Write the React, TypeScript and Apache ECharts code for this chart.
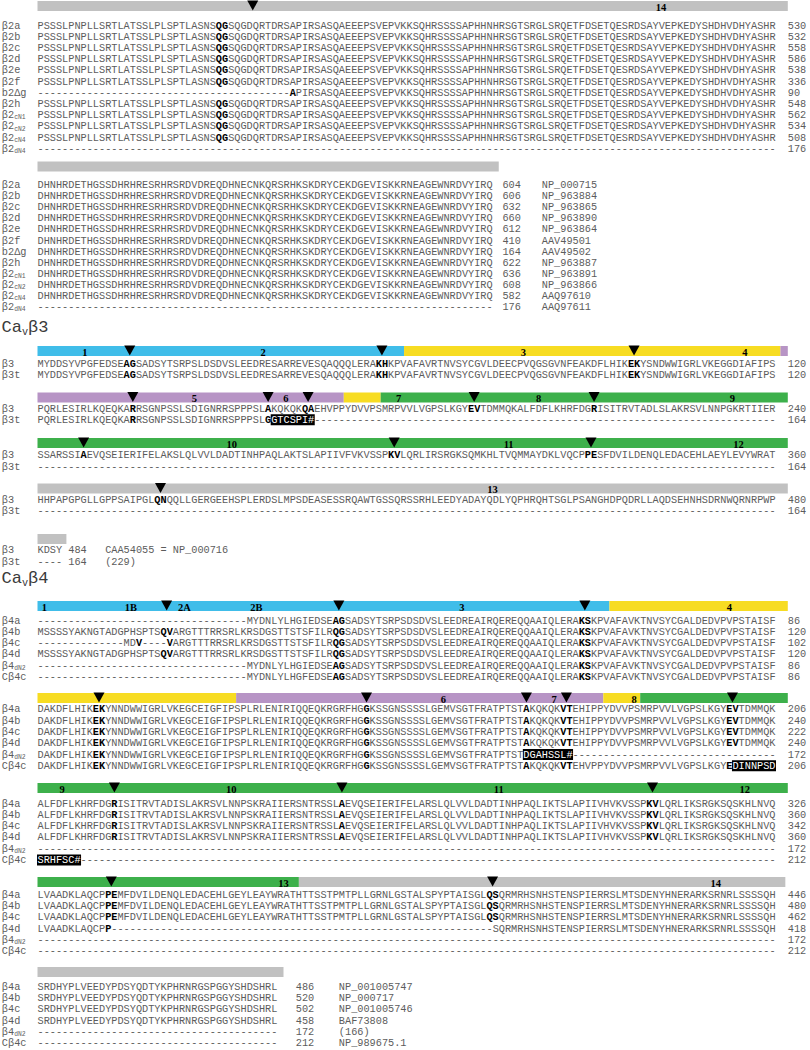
import React, { useEffect, useRef } from "react";
import * as echarts from "echarts";

const gap = (n: number) => "-".repeat(n);

// ---------------- Cavβ2 (C-terminal part) ----------------
const b2Names = ["β2a", "β2b", "β2c", "β2d", "β2e", "β2f", "b2Δg", "β2h", "β2_cN1", "β2_cN2", "β2_cN4", "β2_dN4"];
const b2SeqA = "PSSSLPNPLLSRTLATSSLPLSPTLASNS*QG*SQGDQRTDRSAPIRSASQAEEEPSVEPVKKSQHRSSSSAPHHNHRSGTSRGLSRQETFDSETQESRDSAYVEPKEDYSHDHVDHYASHR";
const b2gSeqA = gap(41) + "*A*PIRSASQAEEEPSVEPVKKSQHRSSSSAPHHNHRSGTSRGLSRQETFDSETQESRDSAYVEPKEDYSHDHVDHYASHR";
const b2RowsA = [b2SeqA, b2SeqA, b2SeqA, b2SeqA, b2SeqA, b2SeqA, b2gSeqA, b2SeqA, b2SeqA, b2SeqA, b2SeqA, gap(120)];
const b2EndA = [530, 532, 558, 586, 538, 336, 90, 548, 562, 534, 508, 176];
const b2BarsA: [number, number, string][] = [[0, 122, "s"]];
const b2LabelsA: [number, string][] = [[101.4, "14"]];
const b2ArrowsA = [35];

const b2SeqB = "DHNHRDETHGSSDHRHRESRHRSRDVDREQDHNECNKQRSRHKSKDRYCEKDGEVISKKRNEAGEWNRDVYIRQ";
const b2RowsB = [b2SeqB, b2SeqB, b2SeqB, b2SeqB, b2SeqB, b2SeqB, b2SeqB, b2SeqB, b2SeqB, b2SeqB, b2SeqB, gap(74)];
const b2EndB = [604, 606, 632, 660, 612, 410, 164, 622, 636, 608, 582, 176];
const b2Acc = ["NP_000715", "NP_963884", "NP_963865", "NP_963890", "NP_963864", "AAV49501", "AAV49502", "NP_963887", "NP_963891", "NP_963866", "AAQ97610", "AAQ97611"];
const b2BarsB: [number, number, string][] = [[0, 75, "s"]];

// ---------------- Cavβ3 ----------------
const b3Names = ["β3", "β3t"];
const b3L1 = "MYDDSYVPGFEDSE*AG*SADSYTSRPSLDSDVSLEEDRESARREVESQAQQQLERA*KH*KPVAFAVRTNVSYCGVLDEECPVQGSGVNFEAKDFLHIK*EK*YSNDWWIGRLVKEGGDIAFIPS";
const b3Rows1 = [b3L1, b3L1];
const b3End1 = [120, 120];
const b3Bars1: [number, number, string][] = [[0, 59.6, "b"], [59.6, 120.8, "y"], [120.8, 122, "p"]];
const b3Labels1: [number, string][] = [[7.7, "1"], [36.7, "2"], [79, "3"], [115, "4"]];
const b3Arrows1 = [15, 56, 97];

const b3Rows2 = [
  "PQRLESIRLKQEQKA*R*RSGNPSSLSDIGNRRSPPPSL*A*KQKQK*QA*EHVPPYDVVPSMRPVVLVGPSLKGY*EV*TDMMQKALFDFLKHRFDG*R*ISITRVTADLSLAKRSVLNNPGKRTIIER",
  "PQRLESIRLKQEQKA*R*RSGNPSSLSDIGNRRSPPPSL*G*[GTCSPI#]" + gap(75),
];
const b3End2 = [240, 164];
const b3Bars2: [number, number, string][] = [[0, 49.8, "p"], [49.8, 55.8, "y"], [55.8, 122, "g"]];
const b3Labels2: [number, string][] = [[25.5, "5"], [40.4, "6"], [58.7, "7"], [81.5, "8"], [113, "9"]];
const b3Arrows2 = [15.5, 37.5, 44, 71, 90.5];

const b3Rows3 = [
  "SSARSSI*A*EVQSEIERIFELAKSLQLVVLDADTINHPAQLAKTSLAPIIVFVKVSSP*KV*LQRLIRSRGKSQMKHLTVQMMAYDKLVQCP*PE*SFDVILDENQLEDACEHLAEYLEVYWRAT",
  gap(120),
];
const b3End3 = [360, 164];
const b3Bars3: [number, number, string][] = [[0, 122, "g"]];
const b3Labels3: [number, string][] = [[31.6, "10"], [76.6, "11"], [114, "12"]];
const b3Arrows3 = [7.5, 58, 90];

const b3Rows4 = [
  "HHPAPGPGLLGPPSAIPGL*QN*QQLLGERGEEHSPLERDSLMPSDEASESSRQAWTGSSQRSSRHLEEDYADAYQDLYQPHRQHTSGLPSANGHDPQDRLLAQDSEHNHSDRNWQRNRPWP",
  gap(120),
];
const b3End4 = [480, 164];
const b3Bars4: [number, number, string][] = [[0, 122, "s"]];
const b3Labels4: [number, string][] = [[74, "13"]];
const b3Arrows4 = [20];

const b3Rows5 = ["KDSY", "----"];
const b3End5 = [484, 164];
const b3Acc5 = ["CAA54055 = NP_000716", "(229)"];
const b3Bars5: [number, number, string][] = [[0, 4.7, "s"]];

// ---------------- Cavβ4 ----------------
const b4Names = ["β4a", "β4b", "β4c", "β4d", "β4_dN2", "Cβ4c"];
const b4aL1 = gap(34) + "MYDNLYLHGIEDSE*AG*SADSYTSRPSDSDVSLEEDREAIRQEREQQAAIQLERA*KS*KPVAFAVKTNVSYCGALDEDVPVPSTAISF";
const b4bL1 = "MSSSSYAKNGTADGPHSPTS*QV*ARGTTTRRSRLKRSDGSTTSTSFILR*QG*SADSYTSRPSDSDVSLEEDREAIRQEREQQAAIQLERA*KS*KPVAFAVKTNVSYCGALDEDVPVPSTAISF";
const b4cL1 = gap(14) + "MD*V*----*V*ARGTTTRRSRLKRSDGSTTSTSFILR*QG*SADSYTSRPSDSDVSLEEDREAIRQEREQQAAIQLERA*KS*KPVAFAVKTNVSYCGALDEDVPVPSTAISF";
const cb4cL1 = gap(34) + "MYDNLYLHGFEDSE*AG*SADSYTSRPSDSDVSLEEDREAIRQEREQQAAIQLERA*KS*KPVAFAVKTNVSYCGALDEDVPVPSTAISF";
const b4Rows1 = [b4aL1, b4bL1, b4cL1, b4bL1, b4aL1, cb4cL1];
const b4End1 = [86, 120, 102, 120, 86, 86];
const b4Bars1: [number, number, string][] = [[0, 93, "b"], [93, 122, "y"]];
const b4Labels1: [number, string][] = [[1.1, "1"], [15.2, "1B"], [23.9, "2A"], [35.6, "2B"], [69, "3"], [112.5, "4"]];
const b4Arrows1 = [21, 49, 89];

const b4L2 = "DAKDFLHIK*EK*YNNDWWIGRLVKEGCEIGFIPSPLRLENIRIQQEQKRGRFHG*G*KSSGNSSSSLGEMVSGTFRATPTST*A*KQKQK*VT*EHIPPYDVVPSMRPVVLVGPSLKGY*EV*TDMMQK";
const b4dN2L2 = "DAKDFLHIK*EK*YNNDWWIGRLVKEGCEIGFIPSPLRLENIRIQQEQKRGRFHG*G*KSSGNSSSSLGEMVSGTFRATPTST[DGAHSSL#]" + gap(33);
const cb4cL2 = "DAKDFLHIK*EK*YNNDWWIGRLVKEGCEIGFIPSPLRLENIRIQQEQKRGRFHG*G*KSSGNSSSSLGEMVSGTFRATPTST*A*KQKQK*VT*EHVPPYDVVPSMRPVVLVGPSLKGY*E*[DINNPSD]";
const b4Rows2 = [b4L2, b4L2, b4L2, b4L2, b4dN2L2, cb4cL2];
const b4End2 = [206, 240, 222, 240, 172, 206];
const b4Bars2: [number, number, string][] = [[0, 32.3, "y"], [32.3, 92, "p"], [92, 98, "y"], [98, 122, "g"]];
const b4Labels2: [number, string][] = [[66, "6"], [84, "7"], [97, "8"]];
const b4Arrows2 = [10, 53.5, 79.5, 86, 113];

const b4L3 = "ALFDFLKHRFDG*R*ISITRVTADISLAKRSVLNNPSKRAIIERSNTRSSL*A*EVQSEIERIFELARSLQLVVLDADTINHPAQLIKTSLAPIIVHVKVSSP*KV*LQRLIKSRGKSQSKHLNVQ";
const b4Rows3 = [b4L3, b4L3, b4L3, b4L3, gap(120), "[SRHFSC#]" + gap(113)];
const b4End3 = [326, 360, 342, 360, 172, 212];
const b4Bars3: [number, number, string][] = [[0, 122, "g"]];
const b4Labels3: [number, string][] = [[4, "9"], [31.5, "10"], [75, "11"], [115, "12"]];
const b4Arrows3 = [12.5, 49.5, 100];

const b4L4 = "LVAADKLAQCP*PE*MFDVILDENQLEDACEHLGEYLEAYWRATHTTSSTPMTPLLGRNLGSTALSPYPTAISGL*QS*QRMRHSNHSTENSPIERRSLMTSDENYHNERARKSRNRLSSSSQH";
const b4dL4 = "LVAADKLAQCP*P*" + gap(62) + "SQRMRHSNHSTENSPIERRSLMTSDENYHNERARKSRNRLSSSSQH";
const b4Rows4 = [b4L4, b4L4, b4L4, b4dL4, gap(120), gap(120)];
const b4End4 = [446, 480, 462, 418, 172, 212];
const b4Bars4: [number, number, string][] = [[0, 42.5, "g"], [42.5, 121.6, "s"]];
const b4Labels4: [number, string][] = [[40, "13"], [110.3, "14"]];
const b4Arrows4 = [12, 74];

const b4L5 = "SRDHYPLVEEDYPDSYQDTYKPHRNRGSPGGYSHDSHRL";
const b4Rows5 = [b4L5, b4L5, b4L5, b4L5, gap(39), gap(39)];
const b4End5 = [486, 520, 502, 458, 172, 212];
const b4Acc5 = ["NP_001005747", "NP_000717", "NP_001005746", "BAF73808", "(166)", "NP_989675.1"];
const b4Bars5: [number, number, string][] = [[0, 40, "s"]];

const headings = ["Ca_vβ3", "Ca_vβ4"];

// ---------------- styles & layout ----------------
const CW = 6.15;
const FS = CW / 0.6;
const LEFT = 37.5;
const MONO = "'Liberation Mono', 'DejaVu Sans Mono', monospace";
const SERIF = "'Liberation Serif', 'DejaVu Serif', serif";
const TXT = "#5c5c5c";
const COLORS: Record<string, string> = { b: "#40bde9", y: "#f7dc22", p: "#b794c5", g: "#3db04b", s: "#c1c1c1" };
const BAR_H = 10;
const LABEL_COL = -5.8;

type Row = { name: string; seq: string; end: string; acc?: string };
type Block = { bars: [number, number, string][]; labels: [number, string][]; arrows: number[]; rows: Row[] };
type Layout = { barTop: number; row0: number; gap: number; endCol: number; accCol: number };

const mkRows = (names: string[], seqs: string[], ends: number[], accs?: string[]): Row[] =>
  names.map((n, i) => ({ name: n, seq: seqs[i], end: String(ends[i]), acc: accs ? accs[i] : undefined }));

const blocks: Block[] = [
  { bars: b2BarsA, labels: b2LabelsA, arrows: b2ArrowsA, rows: mkRows(b2Names, b2RowsA, b2EndA) },
  { bars: b2BarsB, labels: [], arrows: [], rows: mkRows(b2Names, b2RowsB, b2EndB, b2Acc) },
  { bars: b3Bars1, labels: b3Labels1, arrows: b3Arrows1, rows: mkRows(b3Names, b3Rows1, b3End1) },
  { bars: b3Bars2, labels: b3Labels2, arrows: b3Arrows2, rows: mkRows(b3Names, b3Rows2, b3End2) },
  { bars: b3Bars3, labels: b3Labels3, arrows: b3Arrows3, rows: mkRows(b3Names, b3Rows3, b3End3) },
  { bars: b3Bars4, labels: b3Labels4, arrows: b3Arrows4, rows: mkRows(b3Names, b3Rows4, b3End4) },
  { bars: b3Bars5, labels: [], arrows: [], rows: mkRows(b3Names, b3Rows5, b3End5, b3Acc5) },
  { bars: b4Bars1, labels: b4Labels1, arrows: b4Arrows1, rows: mkRows(b4Names, b4Rows1, b4End1) },
  { bars: b4Bars2, labels: b4Labels2, arrows: b4Arrows2, rows: mkRows(b4Names, b4Rows2, b4End2) },
  { bars: b4Bars3, labels: b4Labels3, arrows: b4Arrows3, rows: mkRows(b4Names, b4Rows3, b4End3) },
  { bars: b4Bars4, labels: b4Labels4, arrows: b4Arrows4, rows: mkRows(b4Names, b4Rows4, b4End4) },
  { bars: b4Bars5, labels: [], arrows: [], rows: mkRows(b4Names, b4Rows5, b4End5, b4Acc5) },
];

const layout: Layout[] = [
  { barTop: 1, row0: 25.5, gap: 11.2, endCol: 122, accCol: 0 },
  { barTop: 161.5, row0: 185, gap: 11.1, endCol: 75.6, accCol: 82 },
  { barTop: 346, row0: 364, gap: 10.8, endCol: 122, accCol: 0 },
  { barTop: 392.5, row0: 409, gap: 10.8, endCol: 122, accCol: 0 },
  { barTop: 438, row0: 455, gap: 11.5, endCol: 122, accCol: 0 },
  { barTop: 483.5, row0: 500, gap: 11, endCol: 122, accCol: 0 },
  { barTop: 534, row0: 550, gap: 11.5, endCol: 5, accCol: 11 },
  { barTop: 601, row0: 621, gap: 11.15, endCol: 122, accCol: 0 },
  { barTop: 693, row0: 709.3, gap: 11.3, endCol: 122, accCol: 0 },
  { barTop: 783, row0: 803.5, gap: 11.3, endCol: 122, accCol: 0 },
  { barTop: 877, row0: 895, gap: 11.2, endCol: 122, accCol: 0 },
  { barTop: 967, row0: 987, gap: 11.2, endCol: 42, accCol: 49 },
];
const headingY = [327, 578];

type Seg = { text: string; kind: "n" | "b" | "x"; col: number };
function parse(s: string): Seg[] {
  const segs: Seg[] = [];
  let col = 0;
  let i = 0;
  while (i < s.length) {
    const ch = s[i];
    if (ch === "*" || ch === "[") {
      const close = ch === "*" ? "*" : "]";
      const j = s.indexOf(close, i + 1);
      const t = s.slice(i + 1, j);
      segs.push({ text: t, kind: ch === "*" ? "b" : "x", col });
      col += t.length;
      i = j + 1;
    } else {
      let j = i;
      while (j < s.length && s[j] !== "*" && s[j] !== "[") j++;
      const t = s.slice(i, j);
      segs.push({ text: t, kind: "n", col });
      col += t.length;
      i = j;
    }
  }
  return segs;
}

type BarItem = { c0: number; c1: number; top: number; color: string };
type ArrowItem = { col: number; top: number };
type LabelItem = { col: number; top: number; text: string };
type RowItem = { y: number; name: string; segs: Seg[]; end: string; endCol: number; acc?: string; accCol: number };

const barItems: BarItem[] = [];
const arrowItems: ArrowItem[] = [];
const labelItems: LabelItem[] = [];
const rowItems: RowItem[] = [];
blocks.forEach((b, bi) => {
  const L = layout[bi];
  b.bars.forEach(([c0, c1, c]) => barItems.push({ c0, c1, top: L.barTop, color: COLORS[c] }));
  b.labels.forEach(([col, text]) => labelItems.push({ col, top: L.barTop, text }));
  b.arrows.forEach((col) => arrowItems.push({ col, top: L.barTop }));
  b.rows.forEach((r, ri) =>
    rowItems.push({
      y: L.row0 + ri * L.gap,
      name: r.name,
      segs: parse(r.seq),
      end: r.end,
      endCol: L.endCol,
      acc: r.acc,
      accCol: L.accCol,
    })
  );
});

const txt = (x: number, y: number, text: string, fill: string, fontSize: number, extra: any = {}) => ({
  type: "text",
  style: { x, y, text, fill, fontSize, fontFamily: MONO, align: "left", verticalAlign: "middle", textAlign: "left", textVerticalAlign: "middle", ...extra },
});

function nameChildren(name: string, x: number, y: number, size: number, color: string) {
  const parts = name.split("_");
  const out: any[] = [txt(x, y, parts[0], color, size)];
  if (parts.length > 1) {
    const x2 = x + parts[0].length * size * 0.6;
    out.push(txt(x2, y + size * 0.28, parts[1], color, size * 0.62));
  }
  return out;
}

function headingChildren(name: string, x: number, y: number, size: number, color: string) {
  const [a, rest] = name.split("_");
  const sub = rest[0];
  const tail = rest.slice(1);
  const w1 = a.length * size * 0.6;
  const ws = size * 0.6 * 0.6;
  return [txt(x, y, a, color, size), txt(x + w1, y + size * 0.3, sub, color, size * 0.6), txt(x + w1 + ws, y, tail, color, size)];
}

export default function App() {
  const ref = useRef<HTMLDivElement>(null);
  useEffect(() => {
    document.body.style.margin = "0";
    if (!ref.current) return;
    const chart = echarts.init(ref.current, undefined, { renderer: "svg" });
    const option: any = {
      animation: false,
      backgroundColor: "#ffffff",
      grid: { left: LEFT, top: 0, width: 120 * CW, height: 1050 },
      xAxis: { type: "value", min: 0, max: 120, show: false },
      yAxis: { type: "value", min: 0, max: 1050, inverse: true, show: false },
      series: [
        {
          type: "custom",
          name: "bars",
          data: barItems.map((b) => [b.c0, b.top, b.c1]),
          renderItem: (params: any, api: any) => {
            const b = barItems[params.dataIndex];
            const p0 = api.coord([b.c0, b.top]);
            const p1 = api.coord([b.c1, b.top + BAR_H]);
            return { type: "rect", shape: { x: p0[0], y: p0[1], width: p1[0] - p0[0], height: p1[1] - p0[1] }, style: { fill: b.color } };
          },
        },
        {
          type: "custom",
          name: "arrows",
          data: arrowItems.map((a) => [a.col, a.top]),
          renderItem: (params: any, api: any) => {
            const a = arrowItems[params.dataIndex];
            const p = api.coord([a.col, a.top]);
            return {
              type: "polygon",
              shape: { points: [[p[0] - 5.5, p[1] - 0.5], [p[0] + 5.5, p[1] - 0.5], [p[0], p[1] + 9.5]] },
              style: { fill: "#000" },
            };
          },
        },
        {
          type: "custom",
          name: "barLabels",
          data: labelItems.map((l) => [l.col, l.top]),
          renderItem: (params: any, api: any) => {
            const l = labelItems[params.dataIndex];
            const p = api.coord([l.col, l.top + BAR_H / 2 + 1]);
            return {
              type: "text",
              style: { x: p[0], y: p[1], text: l.text, fill: "#000", fontSize: 10.5, fontWeight: "bold", fontFamily: SERIF, align: "center", verticalAlign: "middle", textAlign: "center", textVerticalAlign: "middle" },
            };
          },
        },
        {
          type: "custom",
          name: "rows",
          data: rowItems.map((r) => [0, r.y]),
          renderItem: (params: any, api: any) => {
            const r = rowItems[params.dataIndex];
            const y = api.coord([0, r.y])[1];
            const xAt = (c: number) => api.coord([c, r.y])[0];
            const children: any[] = [];
            children.push(...nameChildren(r.name, xAt(LABEL_COL), y, FS, TXT));
            r.segs.forEach((s) => {
              if (s.kind === "x") {
                const x0 = xAt(s.col);
                const x1 = xAt(s.col + s.text.length);
                children.push({ type: "rect", shape: { x: x0 - 0.5, y: y - 5.5, width: x1 - x0 + 1, height: 11 }, style: { fill: "#000" } });
              }
              children.push(
                txt(xAt(s.col), y, s.text, s.kind === "n" ? TXT : s.kind === "b" ? "#000" : "#fff", FS, {
                  fontWeight: s.kind === "b" ? "bold" : "normal",
                })
              );
            });
            children.push(txt(xAt(r.endCol), y, r.end, TXT, FS));
            if (r.acc) children.push(txt(xAt(r.accCol), y, r.acc, TXT, FS));
            return { type: "group", children };
          },
        },
        {
          type: "custom",
          name: "headings",
          data: headings.map((_, i) => [LABEL_COL, headingY[i]]),
          renderItem: (params: any, api: any) => {
            const p = api.coord([LABEL_COL, headingY[params.dataIndex]]);
            return { type: "group", children: headingChildren(headings[params.dataIndex], p[0] - 0.3, p[1], 17, "#3a3a3a") };
          },
        },
      ],
    };
    chart.setOption(option);
    return () => chart.dispose();
  }, []);
  return <div ref={ref} style={{ width: 810, height: 1050 }} />;
}
